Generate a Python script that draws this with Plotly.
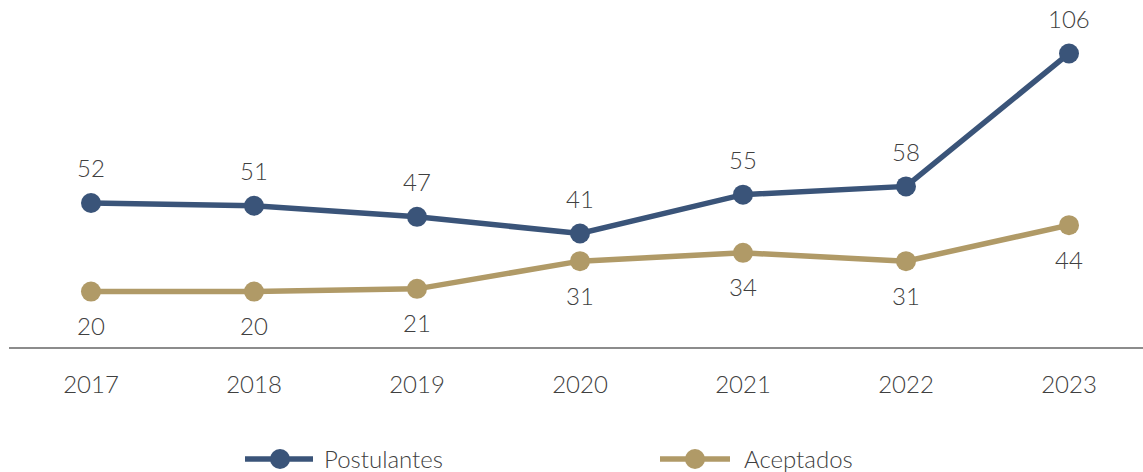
import plotly.graph_objects as go

years = ["2017", "2018", "2019", "2020", "2021", "2022", "2023"]
postulantes = [52, 51, 47, 41, 55, 58, 106]
aceptados = [20, 20, 21, 31, 34, 31, 44]
series_names = ["Postulantes", "Aceptados"]

BLUE = "#3A5479"
GOLD = "#B09A67"
TEXT = "#404040"
FONT = dict(family="Lato", size=24, color=TEXT, weight=300)

W, H = 1143, 472
L, R, T, B = 9, 0, 0, 125
PW, PH = W - L - R, H - T - B

fig = go.Figure()
fig.add_trace(go.Scatter(x=years, y=postulantes, mode="lines+markers", name=series_names[0],
                         line=dict(color=BLUE, width=5.5), marker=dict(size=20, color=BLUE)))
fig.add_trace(go.Scatter(x=years, y=aceptados, mode="lines+markers", name=series_names[1],
                         line=dict(color=GOLD, width=5.5), marker=dict(size=20, color=GOLD)))

annotations = []
for i, y in enumerate(postulantes):
    annotations.append(dict(x=i, y=y, xref="x", yref="y", text=str(y), showarrow=False,
                            yshift=35, font=FONT))
for i, y in enumerate(aceptados):
    annotations.append(dict(x=i, y=y, xref="x", yref="y", text=str(y), showarrow=False,
                            yshift=-34, font=FONT))

def px2paper(px, py):
    return (px - L) / PW, (H - B - py) / PH

# custom legend
shapes = []
legend_items = [(245, 313, 280, 322, BLUE, series_names[0]), (660, 730, 695, 742, GOLD, series_names[1])]
ly = 459
for x0, x1, mx, tx, col, name in legend_items:
    a0, b0 = px2paper(x0, ly)
    a1, _ = px2paper(x1, ly)
    shapes.append(dict(type="line", xref="paper", yref="paper", x0=a0, x1=a1, y0=b0, y1=b0,
                       line=dict(color=col, width=5.5)))
    c0, d0 = px2paper(mx - 10, ly - 10)
    c1, d1 = px2paper(mx + 10, ly + 10)
    shapes.append(dict(type="circle", xref="paper", yref="paper", x0=c0, x1=c1, y0=d1, y1=d0,
                       fillcolor=col, line=dict(color=col, width=0)))
    ta, tb = px2paper(tx, ly)
    annotations.append(dict(xref="paper", yref="paper", x=ta, y=tb, xanchor="left", yanchor="middle",
                            text=name, showarrow=False, font=FONT))

fig.update_layout(
    width=W, height=H,
    margin=dict(l=L, r=R, t=T, b=B),
    paper_bgcolor="white", plot_bgcolor="white",
    showlegend=False,
    font=FONT,
    annotations=annotations,
    shapes=shapes,
    xaxis=dict(type="category", range=[-0.503, 6.454], showgrid=False, zeroline=False,
               showline=True, linecolor="#8C8C8C", linewidth=2,
               ticks="outside", ticklen=15, tickcolor="rgba(0,0,0,0)",
               tickfont=FONT),
    yaxis=dict(range=[0, 125.3], showgrid=False, zeroline=False, showline=False,
               showticklabels=False, ticks=""),
)

fig.write_html("out.html", config={"displayModeBar": False},
               post_script="document.body.style.margin='0';")
